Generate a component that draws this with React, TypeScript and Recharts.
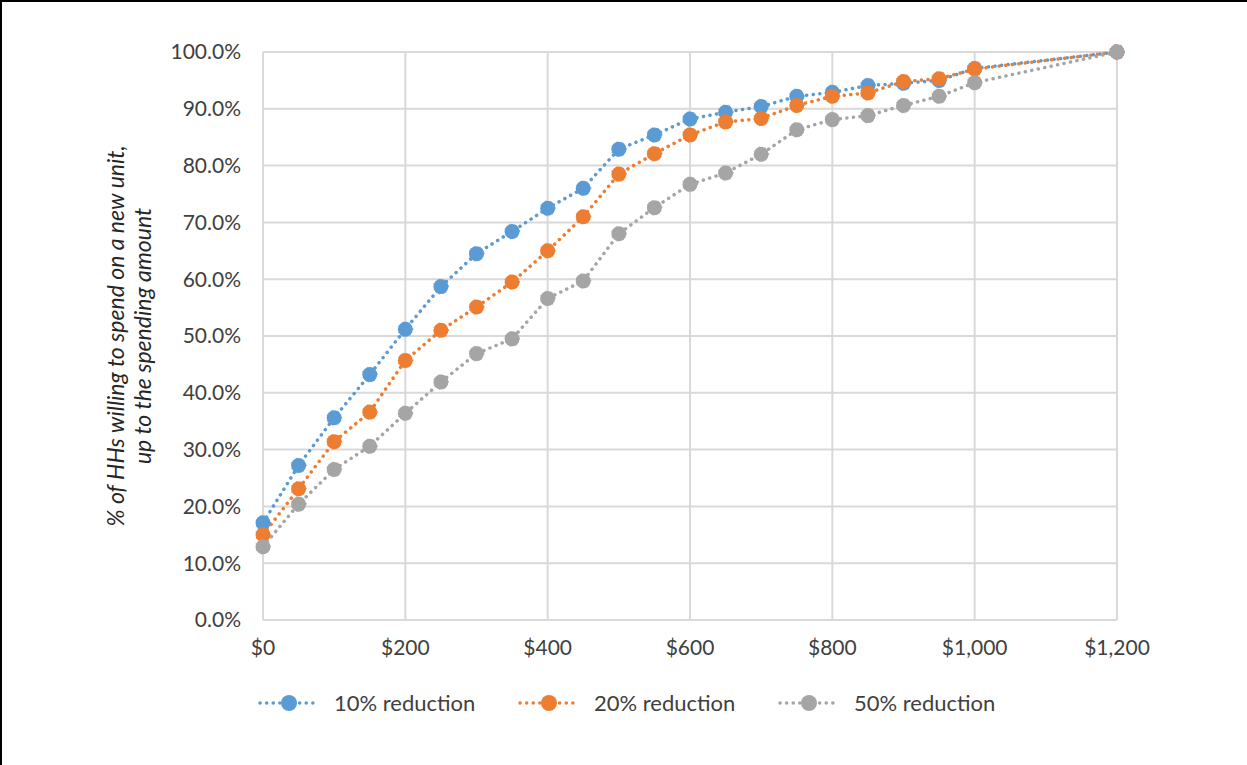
import { LineChart, Line, XAxis, YAxis, CartesianGrid } from "recharts";

const spend = [0, 50, 100, 150, 200, 250, 300, 350, 400, 450, 500, 550, 600, 650, 700, 750, 800, 850, 900, 950, 1000, 1200];
const reduction10 = [17.1, 27.2, 35.6, 43.2, 51.2, 58.7, 64.5, 68.4, 72.5, 76.0, 82.9, 85.4, 88.2, 89.4, 90.4, 92.2, 92.9, 94.1, 94.5, 95.0, 97.1, 100];
const reduction20 = [15.0, 23.1, 31.4, 36.6, 45.7, 51.0, 55.1, 59.5, 65.0, 71.0, 78.5, 82.1, 85.4, 87.7, 88.3, 90.6, 92.2, 92.8, 94.8, 95.3, 97.0, 100];
const reduction50 = [12.9, 20.4, 26.5, 30.6, 36.4, 41.9, 46.9, 49.5, 56.6, 59.7, 68.0, 72.6, 76.7, 78.7, 82.0, 86.3, 88.1, 88.8, 90.6, 92.2, 94.6, 100];
const xTicks = [0, 200, 400, 600, 800, 1000, 1200];
const yTicks = [0, 10, 20, 30, 40, 50, 60, 70, 80, 90, 100];

const series = [
  { key: "r10", name: "10% reduction", color: "#5B9BD5" },
  { key: "r20", name: "20% reduction", color: "#ED7D31" },
  { key: "r50", name: "50% reduction", color: "#A5A5A5" },
];

const data = spend.map((s, i) => ({
  spend: s,
  r10: reduction10[i],
  r20: reduction20[i],
  r50: reduction50[i],
}));

const FONT = "Lato, 'Open Sans', sans-serif";
const GRID = "#d9d9d9";

function AxisTitle() {
  const cx = 122;
  const cy = 334;
  return (
    <text
      transform={`rotate(-90, ${cx}, ${cy})`}
      x={cx}
      y={cy}
      textAnchor="middle"
      fontFamily={FONT}
      fontStyle="italic"
      fontSize={23}
      fill="#262626"
    >
      <tspan x={cx} dy={0}>% of HHs willing to spend on a new unit,</tspan>
      <tspan x={cx} dy={27}>up to the spending amount</tspan>
    </text>
  );
}

function LegendIcon({ color }: { color: string }) {
  return (
    <svg width={62} height={20} style={{ display: "block" }}>
      <line x1={2} y1={10} x2={60} y2={10} stroke={color} strokeWidth={3.5} strokeDasharray="0.1 6.5" strokeLinecap="round" />
      <circle cx={31} cy={10} r={8} fill={color} />
    </svg>
  );
}

export default function App() {
  return (
    <div
      style={{
        position: "absolute",
        left: 0,
        top: 0,
        width: 1247,
        height: 765,
        boxSizing: "border-box",
        borderLeft: "2px solid #000",
        borderTop: "2px solid #000",
        background: "#fff",
      }}
    >
      <LineChart width={1245} height={763} data={data} margin={{ top: 50, right: 130, left: 0, bottom: 85 }}>
        <CartesianGrid stroke={GRID} strokeWidth={2} horizontal vertical />
        <XAxis
          dataKey="spend"
          type="number"
          domain={[0, 1200]}
          ticks={xTicks}
          height={60}
          tickLine={false}
          tickSize={0}
          tickMargin={20}
          axisLine={{ stroke: GRID, strokeWidth: 2 }}
          tick={{ fill: "#404040", fontSize: 21, fontFamily: FONT }}
          tickFormatter={(v: number) => `$${v.toLocaleString("en-US")}`}
        />
        <YAxis
          type="number"
          domain={[0, 100]}
          ticks={yTicks}
          width={261}
          tickLine={false}
          tickSize={0}
          tickMargin={22}
          axisLine={{ stroke: GRID, strokeWidth: 2 }}
          tick={{ fill: "#404040", fontSize: 21, fontFamily: FONT }}
          tickFormatter={(v: number) => `${v.toFixed(1)}%`}
          label={{ content: () => <AxisTitle /> }}
        />
        {series.map((s) => (
          <Line
            key={s.key}
            dataKey={s.key}
            name={s.name}
            stroke={s.color}
            strokeWidth={3.5}
            strokeDasharray="0.1 6.5"
            strokeLinecap="round"
            dot={{ r: 7.5, fill: s.color, stroke: s.color, strokeWidth: 1 }}
            isAnimationActive={false}
          />
        ))}
      </LineChart>
      {series.map((s, i) => (
        <div
          key={s.key}
          style={{
            position: "absolute",
            left: 256 + i * 260,
            top: 687,
            display: "flex",
            alignItems: "center",
            gap: 14,
            fontFamily: FONT,
            fontSize: 22,
            color: "#404040",
            whiteSpace: "nowrap",
          }}
        >
          <LegendIcon color={s.color} />
          <span>{s.name}</span>
        </div>
      ))}
    </div>
  );
}
